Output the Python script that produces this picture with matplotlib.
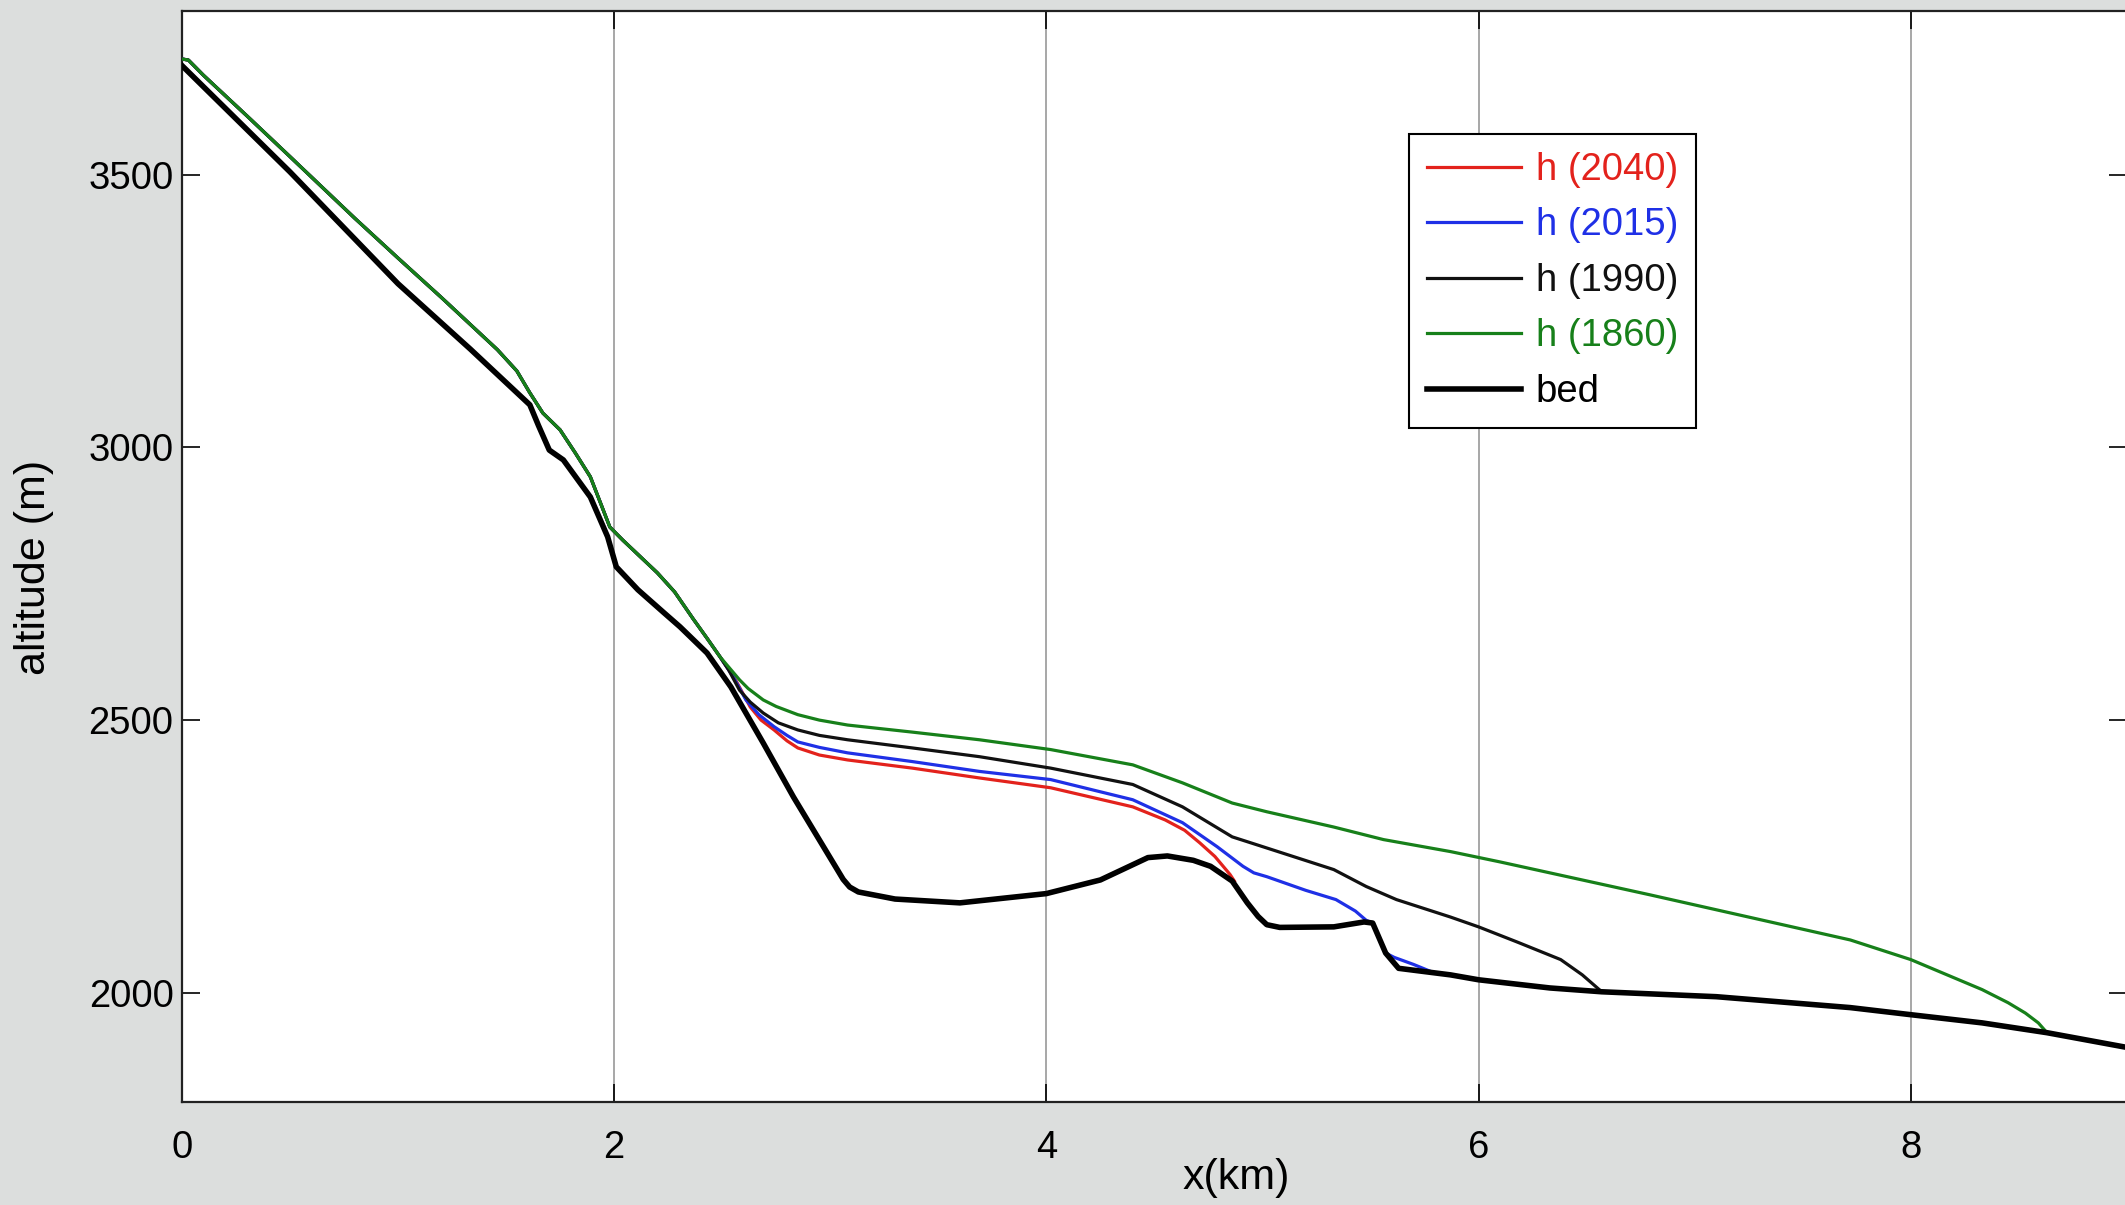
import numpy as np
import matplotlib
matplotlib.use("Agg")
import matplotlib.pyplot as plt

plt.rcParams['font.family'] = ['Liberation Sans', 'DejaVu Sans']

# shared upper surface (all h curves coincide here), x in km, altitude in m
h_up_x = [0.0, 0.03, 0.1, 0.3, 0.5, 0.8, 1.0, 1.2, 1.46, 1.55, 1.61, 1.67, 1.75, 1.82,
          1.89, 1.94, 1.98, 2.04, 2.12, 2.20, 2.28, 2.365, 2.43, 2.49]
h_up_y = [3712, 3710, 3682, 3608, 3533, 3420, 3347, 3275, 3179, 3140, 3100, 3063, 3032, 2990,
          2946, 2895, 2854, 2830, 2800, 2770, 2735, 2686, 2650, 2616]

h2040_x = [2.56, 2.63, 2.68, 2.74, 2.80, 2.85, 2.95, 3.08, 3.38, 3.69, 4.02, 4.40, 4.55,
           4.64, 4.71, 4.78, 4.85, 4.87]
h2040_y = [2575, 2524, 2500, 2482, 2462, 2449, 2436, 2427, 2412, 2394, 2376, 2341, 2317,
           2298, 2275, 2250, 2217, 2205]

h2015_x = [2.55, 2.61, 2.67, 2.74, 2.80, 2.85, 2.95, 3.08, 3.38, 3.69, 4.02, 4.40, 4.63,
           4.79, 4.91, 4.96, 5.02, 5.20, 5.34, 5.43, 5.48, 5.51, 5.57, 5.61, 5.70, 5.78]
h2015_y = [2580, 2537, 2510, 2488, 2472, 2460, 2450, 2440, 2424, 2406, 2391, 2354, 2312,
           2268, 2232, 2220, 2213, 2188, 2171, 2150, 2133, 2128, 2073, 2065, 2052, 2039]

h1990_x = [2.53, 2.58, 2.63, 2.69, 2.76, 2.85, 2.95, 3.08, 3.38, 3.69, 4.02, 4.40, 4.63,
           4.86, 4.97, 5.33, 5.48, 5.62, 5.87, 6.0, 6.18, 6.38, 6.48, 6.57]
h1990_y = [2592, 2555, 2533, 2513, 2495, 2482, 2472, 2464, 2449, 2433, 2412, 2382, 2341,
           2286, 2272, 2226, 2195, 2171, 2139, 2121, 2093, 2061, 2033, 2002]

h1860_x = [2.58, 2.62, 2.69, 2.75, 2.85, 2.95, 3.08, 3.38, 3.69, 4.02, 4.40, 4.63, 4.86,
           5.02, 5.33, 5.56, 5.87, 6.10, 6.79, 7.72, 8.0, 8.33, 8.45, 8.53, 8.59, 8.63]
h1860_y = [2574, 2558, 2537, 2525, 2510, 2500, 2491, 2478, 2464, 2446, 2418, 2385, 2348,
           2332, 2304, 2281, 2259, 2240, 2180, 2097, 2061, 2006, 1982, 1963, 1945, 1927]

bed_x = [0.0, 0.5, 1.0, 1.335, 1.61, 1.65, 1.70, 1.765, 1.89, 1.97, 2.01, 2.11, 2.23, 2.305,
         2.43, 2.54, 2.69, 2.83, 3.06, 3.09, 3.13, 3.3, 3.6, 4.0, 4.25, 4.47, 4.56, 4.68,
         4.76, 4.86, 4.93, 4.98, 5.02, 5.08, 5.33, 5.47, 5.51, 5.57, 5.63, 5.87, 6.0, 6.33,
         6.57, 7.10, 7.72, 8.0, 8.33, 8.63, 9.0]
bed_y = [3700, 3505, 3300, 3180, 3078, 3040, 2995, 2977, 2909, 2836, 2781, 2739, 2697, 2671,
         2623, 2561, 2458, 2359, 2208, 2194, 2185, 2172, 2165, 2182, 2207, 2248, 2251, 2243,
         2232, 2205, 2165, 2140, 2125, 2120, 2121, 2130, 2128, 2073, 2045, 2033, 2024, 2009,
         2002, 1993, 1973, 1960, 1945, 1927, 1900]

series = [
    ("h (2040)", h2040_x, h2040_y, '#e3221c'),
    ("h (2015)", h2015_x, h2015_y, '#1f30e6'),
    ("h (1990)", h1990_x, h1990_y, '#111111'),
    ("h (1860)", h1860_x, h1860_y, '#17801a'),
]

fig = plt.figure(figsize=(21.25, 12.05), dpi=100, facecolor='#dcdedd')
ax = fig.add_axes([0.0856, 0.0855, 0.9153, 0.9054])
ax.set_facecolor('white')

for label, xs, ys, col in series:
    ax.plot(h_up_x + xs, h_up_y + ys, color=col, lw=2.3, label=label, zorder=3)
ax.plot(bed_x, bed_y, color='black', lw=4.0, label='bed', zorder=4)

ax.set_xlim(0, 9)
ax.set_ylim(1800, 3800)
ax.set_xticks([0, 2, 4, 6, 8])
ax.set_yticks([2000, 2500, 3000, 3500])
ax.xaxis.grid(True, color='#a0a0a0', lw=1.3)
ax.set_axisbelow(True)

ax.tick_params(direction='in', length=13, width=1.2, top=True, right=True,
               labelsize=27.5, colors='black')
ax.tick_params(axis='x', pad=20)
ax.tick_params(axis='y', pad=6)
for s in ax.spines.values():
    s.set_linewidth(1.6)
    s.set_color('#222222')

# axis labels placed where the reference has them
fig.text(34 / 2125, 1 - 567 / 1205, 'altitude (m)', rotation=90, fontsize=31,
         ha='center', va='center')
fig.text(1236 / 2125, 1 - 1158 / 1205, 'x(km)', fontsize=31, ha='center', va='top')

leg = ax.legend(loc='upper left', bbox_to_anchor=(1409 / 2125, 1 - 134 / 1205),
                bbox_transform=fig.transFigure, borderaxespad=0, fontsize=27.5,
                frameon=True, fancybox=False, edgecolor='black', framealpha=1,
                handlelength=2.45, handletextpad=0.4, labelspacing=0.51, borderpad=0.47)
leg.get_frame().set_linewidth(1.5)
for txt, line in zip(leg.get_texts(), leg.get_lines()):
    txt.set_color(line.get_color())

fig.savefig('out.png', dpi=100, facecolor=fig.get_facecolor())
